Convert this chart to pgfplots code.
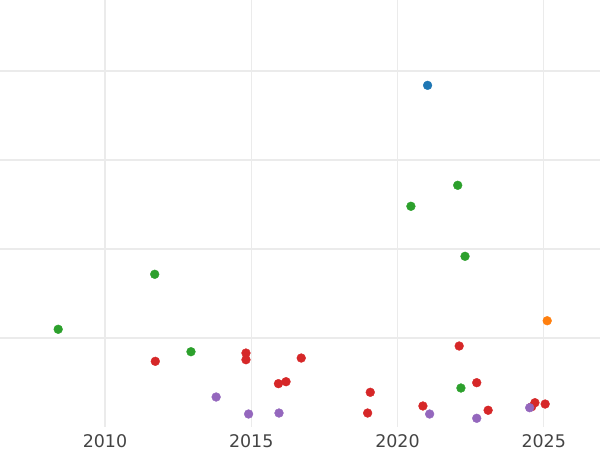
\documentclass[border=0pt]{standalone}
\usepackage{pgfplots}
\pgfplotsset{compat=1.18}
\usepackage{fontspec}
\setmainfont{DejaVu Sans}
\definecolor{cblue}{HTML}{1F77B4}
\definecolor{corange}{HTML}{FF7F0E}
\definecolor{cgreen}{HTML}{2CA02C}
\definecolor{cred}{HTML}{D62728}
\definecolor{cpurple}{HTML}{9467BD}
\definecolor{gridc}{RGB}{235,235,235}
\definecolor{tickc}{RGB}{68,68,68}
\begin{document}
\begin{tikzpicture}
\useasboundingbox (0,0) rectangle (600bp,450bp);
\begin{axis}[
  at={(0,23bp)}, anchor=south west,
  scale only axis, width=600bp, height=427bp,
  xmin=2006.41, xmax=2026.925, ymin=0, ymax=4.798,
  axis line style={draw=none},
  major tick length=0pt,
  xtick={2010,2015,2020,2025},
  xticklabels={2010,2015,2020,2025},
  ytick={1,2,3,4}, yticklabels={},
  grid=major,
  major grid style={gridc, line width=1.1bp},
  xticklabel style={anchor=center, yshift=-13.7bp, font=\fontsize{17.5}{20}\selectfont, text=tickc},
  /pgf/number format/assume math mode=true,
  clip=false,
  every axis plot/.append style={only marks, mark=*, mark size=4.4bp},
]
\addplot[cblue, mark options={fill=cblue, draw=cblue}] coordinates {(2021.03,3.839)};
\addplot[corange, mark options={fill=corange, draw=corange}] coordinates {(2025.12,1.194)};
\addplot[cgreen, mark options={fill=cgreen, draw=cgreen}] coordinates {
(2008.40,1.098) (2011.70,1.716) (2012.94,0.846) (2020.46,2.480)
(2022.06,2.716) (2022.31,1.918) (2022.17,0.438)};
\addplot[cred, mark options={fill=cred, draw=cred}] coordinates {
(2011.72,0.738) (2014.82,0.831) (2014.82,0.756) (2015.93,0.487)
(2016.19,0.509) (2016.71,0.775) (2019.07,0.390) (2018.98,0.157)
(2020.87,0.236) (2022.11,0.910) (2022.71,0.498) (2023.10,0.188)
(2024.59,0.228) (2024.70,0.273) (2025.05,0.258)};
\addplot[cpurple, mark options={fill=cpurple, draw=cpurple}] coordinates {
(2013.80,0.337) (2014.91,0.146) (2015.95,0.157) (2021.10,0.146)
(2022.71,0.098) (2024.52,0.217)};
\end{axis}
\end{tikzpicture}
\end{document}
